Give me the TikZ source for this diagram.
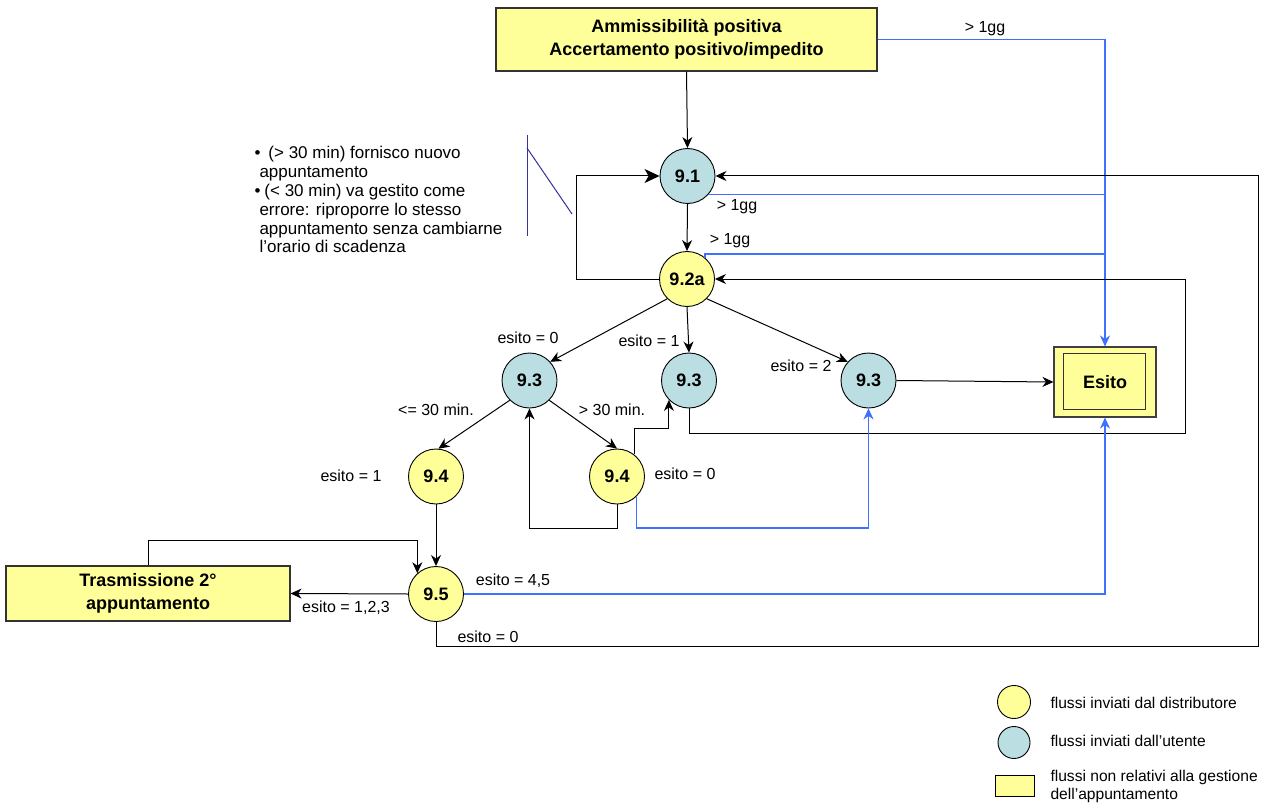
\documentclass[tikz,border=0pt]{standalone}
\usepackage{fontspec}
\setmainfont{Liberation Sans}
\usetikzlibrary{arrows.meta}
\definecolor{yel}{RGB}{255,255,153}
\definecolor{tealf}{RGB}{186,222,226}
\definecolor{bl}{RGB}{64,112,255}
\definecolor{navyl}{RGB}{51,51,153}
\begin{document}
\begin{tikzpicture}[x=1pt,y=-1pt,line width=1pt,
  st/.style={circle, draw=black, line width=0.9pt, minimum size=55pt, inner sep=0pt, font=\fontsize{18}{20}\selectfont\bfseries},
  dist/.style={st, fill=yel},
  user/.style={st, fill=tealf},
  box/.style={draw=black!80, line width=1.1pt, fill=yel, inner sep=0pt, align=center, font=\fontsize{18}{23}\selectfont\bfseries},
  lbl/.style={font=\fontsize{16}{18}\selectfont, inner sep=0pt},
  leg/.style={font=\fontsize{15.6}{18}\selectfont, inner sep=0pt, anchor=west, align=left},
  arr/.style={draw=black, -{Stealth[length=11pt,width=10pt,inset=3.5pt]}},
  bigarr/.style={draw=black, -{Stealth[length=15pt,width=14pt,inset=4pt]}},
  barr/.style={draw=bl, line width=1.1pt, -{Stealth[length=11pt,width=10pt,inset=3.5pt]}},
  bline/.style={draw=bl, line width=1.1pt},
]
\useasboundingbox (0,0) rectangle (1273,805);
\fill[white] (0,0) rectangle (1273,805);

% nodes
\node[box, minimum width=381pt, minimum height=63pt] (top) at (686.5,39.5) {Ammissibilità positiva\\Accertamento positivo/impedito};
\node[user] (n91) at (687.5,176) {9.1};
\node[dist] (n92a) at (687,279) {9.2a};
\node[user] (n93l) at (529.5,380.5) {9.3};
\node[user] (n93m) at (689,380.5) {9.3};
\node[user] (n93r) at (868.5,380.5) {9.3};
\node[dist] (n94l) at (436,476.5) {9.4};
\node[dist] (n94r) at (617,476.5) {9.4};
\node[dist] (n95) at (436,594) {9.5};
\node[box, minimum width=284pt, minimum height=55pt] (tr) at (148,593.5) {Trasmissione 2°\\appuntamento};
\node[box, minimum width=102pt, minimum height=70pt, draw=black!75] (esito) at (1105,382) {Esito};
\draw[black!80, line width=1pt] ([shift={(10,7)}]esito.north west) rectangle ([shift={(-11,-8)}]esito.south east);

% coordinates
\coordinate (j2) at (1105,254);
\coordinate (cR) at (1258,646);
\coordinate (cM) at (1185,433);
\coordinate (cB) at (700,528);

% connectors
\draw[arr] (top.south) -- (n91.north);
\draw[barr] (top.east) -| (esito.north);
\draw[arr] (n91.south) -- (n92a.north);
\draw[bline] (n91.318) -- (n91.318 -| esito.north);
\draw[bline] (n92a.50) |- (j2);
\draw[bigarr] (n92a.west) -- ++(-83,0) |- (n91.west);
\draw[arr] (n95.south) |- (cR) |- (n91.east);
\draw[arr] (n93m.south) |- (cM) |- (n92a.east);
\draw[arr] (n92a.225) -- (n93l.42);
\draw[arr] (n92a.south) -- (n93m.north);
\draw[arr] (n92a.315) -- (n93r.138);
\draw[arr] (n93r.east) -- (esito.west);
\draw[arr] (n93l.225) -- (n94l.85);
\draw[arr] (n93l.315) -- (n94r.north);
\draw[arr] (n94r.south) -- ++(0,24) -| (n93l.south);
\draw[arr] (n94r.52) -- ++(0,-26) -| (n93m.224);
\draw[barr] (n94r.314) |- (cB) -| (n93r.south);
\draw[arr] (n94l.south) -- (n95.north);
\draw[arr] (tr.north) -- ++(0,-25) -| (n95.132);
\draw[arr] (n95.west) -- (tr.east);
\draw[barr] (n95.east) -| (esito.south);

% labels
\node[lbl] (g1) at (985,29) {> 1gg};
\node[lbl] (g2) at (737,207) {> 1gg};
\node[lbl] (g3) at (730,241) {> 1gg};
\node[lbl] (e0a) at (528,338) {esito = 0};
\node[lbl] (e1a) at (649,341) {esito = 1};
\node[lbl] (e2a) at (801,366) {esito = 2};
\node[lbl] (m1) at (436,410) {<= 30 min.};
\node[lbl] (m2) at (612,410) {> 30 min.};
\node[lbl] (e0b) at (685,474) {esito = 0};
\node[lbl] (e1b) at (351,476) {esito = 1};
\node[lbl] (e45) at (513,581) {esito = 4,5};
\node[lbl] (e123) at (346,608) {esito = 1,2,3};
\node[lbl] (e0c) at (488,637) {esito = 0};

% note
\draw[navyl, line width=1pt] (527,135) -- (527,236);
\draw[navyl, line width=1pt] (527,148) -- (572,214);
\node[anchor=north west, align=left, inner sep=0pt, font=\fontsize{17}{18.8}\selectfont] (note) at (254,146)
 {•\hspace{8pt}(> 30 min) fornisco nuovo\\
  \hspace{5pt}appuntamento\\
  •\hspace{4pt}(< 30 min) va gestito come\\
  \hspace{5pt}errore: riproporre lo stesso\\
  \hspace{5pt}appuntamento senza cambiarne\\
  \hspace{5pt}l’orario di scadenza};

% legend
\node[circle, draw=black, line width=0.9pt, fill=yel, minimum size=33pt, inner sep=0pt] (lg1) at (1014,702) {};
\node[circle, draw=black, line width=0.9pt, fill=tealf, minimum size=32pt, inner sep=0pt] (lg2) at (1014,742.5) {};
\node[draw=black, line width=0.9pt, fill=yel, minimum width=39pt, minimum height=21pt, inner sep=0pt] (lg3) at (1014.5,785.5) {};
\node[leg] (lt1) at (1050,703) {flussi inviati dal distributore};
\node[leg] (lt2) at (1050,741) {flussi inviati dall’utente};
\node[leg] (lt3) at (1050,786) {flussi non relativi alla gestione\\dell’appuntamento};
\end{tikzpicture}
\end{document}
